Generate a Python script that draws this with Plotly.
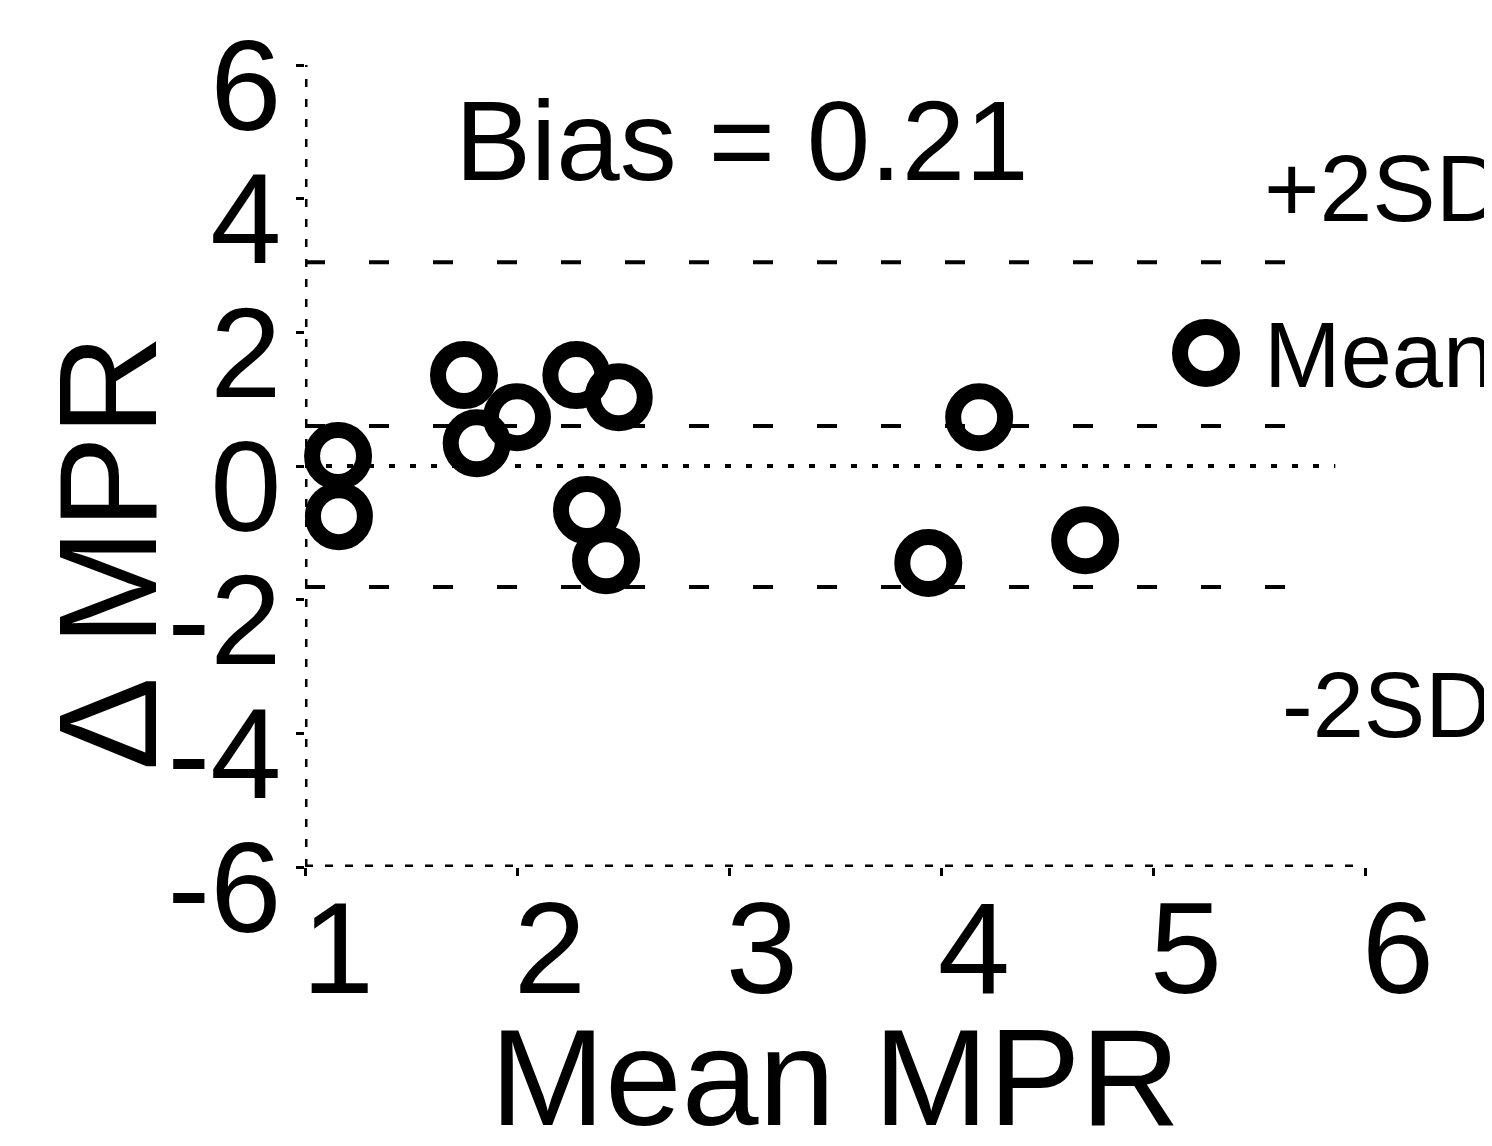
import plotly.graph_objects as go

# Data
mean_mpr = [1.156, 1.160, 1.75, 2.00, 1.81, 2.28, 2.48, 2.33, 2.42, 4.18, 3.94, 4.68]
delta_mpr = [0.15, -0.75, 1.36, 0.73, 0.34, 1.36, 1.03, -0.66, -1.41, 0.73, -1.45, -1.11]

bias_line = 0.60
upper_sd = 3.05
lower_sd = -1.81
line_x_start = 1.0
line_x_end = 5.8
zero_x_end = 5.86

x_ticks = [1, 2, 3, 4, 5, 6]
y_ticks = [-6, -4, -2, 0, 2, 4, 6]
y_tick_labels = ["-6", "-4", "-2", "0", "2", "4", "6"]
x_range = [1, 6]
y_range = [-6, 6]

bias_text = "Bias = 0.21"
FONT = "Liberation Sans, Arial, sans-serif"

fig = go.Figure()

fig.add_trace(go.Scatter(
    x=mean_mpr, y=delta_mpr, mode="markers",
    marker=dict(symbol="circle-open", size=52, color="black",
                line=dict(width=16, color="black")),
    showlegend=False, cliponaxis=False,
))

# limit lines
for yv in [upper_sd, bias_line, lower_sd]:
    fig.add_shape(type="line", xref="x", yref="y", x0=line_x_start, x1=line_x_end,
                  y0=yv, y1=yv, line=dict(color="black", width=4, dash="20px,44px"))
# zero line (dotted)
fig.add_shape(type="line", xref="x", yref="y", x0=x_range[0], x1=zero_x_end, y0=0, y1=0,
              line=dict(color="black", width=4, dash="6px,15px"))
# axis lines (dotted)
fig.add_shape(type="line", xref="x", yref="y", x0=x_range[0], x1=x_range[0],
              y0=y_range[0], y1=y_range[1] + 0.05,
              line=dict(color="black", width=5, dash="8px,12px"))
fig.add_shape(type="line", xref="x", yref="y", x0=x_range[0], x1=x_range[1] - 0.02,
              y0=y_range[0], y1=y_range[0],
              line=dict(color="black", width=5, dash="8px,12px"))

# legend-like symbol
fig.add_shape(type="circle", xref="x", yref="y", xsizemode="pixel", ysizemode="pixel",
              xanchor=5.25, yanchor=1.69, x0=-26, x1=26, y0=-26, y1=26,
              line=dict(color="black", width=16))

ann_font = dict(family=FONT, color="black")
fig.add_annotation(text=bias_text, xref="paper", yref="paper", x=0.412, y=0.906,
                   showarrow=False, font=dict(size=114, **ann_font), xanchor="center", yanchor="middle")
fig.add_annotation(text="+2SD", xref="paper", yref="paper", x=0.903, y=0.847,
                   showarrow=False, font=dict(size=95, **ann_font), xanchor="left", yanchor="middle")
fig.add_annotation(text="Mean", xref="paper", yref="paper", x=0.903, y=0.638,
                   showarrow=False, font=dict(size=92, **ann_font), xanchor="left", yanchor="middle")
fig.add_annotation(text="-2SD", xref="paper", yref="paper", x=0.92, y=0.202,
                   showarrow=False, font=dict(size=92, **ann_font), xanchor="left", yanchor="middle")
fig.add_annotation(text="Δ MPR", xref="paper", yref="paper", x=-0.186, y=0.392, textangle=-90,
                   showarrow=False, font=dict(size=140, **ann_font), xanchor="center", yanchor="middle")
fig.add_annotation(text="Mean MPR", xref="paper", yref="paper", x=0.5, y=-0.262,
                   showarrow=False, font=dict(size=138, **ann_font), xanchor="center", yanchor="middle")

fig.update_xaxes(range=x_range, tickvals=x_ticks, showgrid=False, zeroline=False,
                 showline=False, ticks="outside", ticklen=8, tickwidth=3, tickcolor="black",
                 ticklabelshift=33, ticklabelstandoff=-39, automargin=False,
                 tickfont=dict(family=FONT, size=130, color="black"))
fig.update_yaxes(range=y_range, tickvals=y_ticks, ticktext=y_tick_labels, showgrid=False,
                 zeroline=False, showline=False, ticks="outside", ticklen=8, tickwidth=3,
                 tickcolor="black", ticklabelshift=20, ticklabelstandoff=-11, automargin=False,
                 tickfont=dict(family=FONT, size=128, color="black"))

fig.update_layout(width=1492, height=1146, margin=dict(l=297, r=135, t=57, b=287),
                  plot_bgcolor="white", paper_bgcolor="white", showlegend=False)

fig.write_html("out.html")
